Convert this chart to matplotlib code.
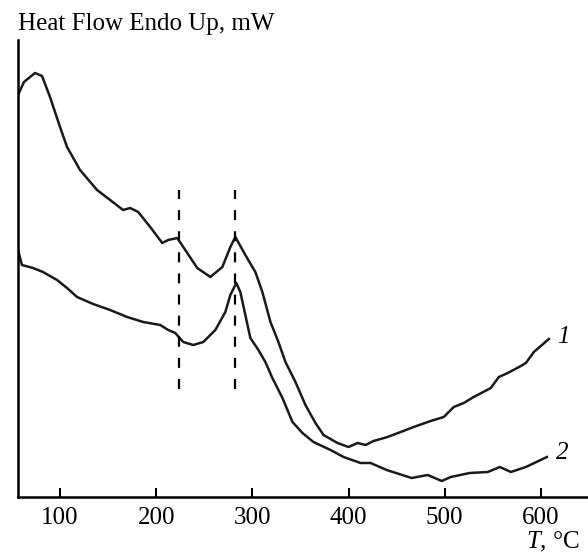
import matplotlib
matplotlib.use("Agg")
from matplotlib import pyplot as plt

plt.rcParams["font.family"] = "Liberation Serif"
plt.rcParams["mathtext.fontset"] = "custom"
plt.rcParams["mathtext.it"] = "Liberation Serif:italic"
plt.rcParams["mathtext.rm"] = "Liberation Serif"

# curve 1 (upper), T in deg C, heat flow in arbitrary mW
t1 = [56.3, 62.5, 74.0, 81.3, 89.6, 100.0, 107.3, 120.8, 138.5, 152.1, 165.6,
      172.9, 181.3, 193.8, 206.3, 212.5, 221.9, 232.3, 242.7, 256.3, 268.8,
      277.1, 282.3, 292.7, 303.1, 310.4, 318.8, 327.1, 334.4, 344.8, 355.2,
      365.6, 374.0, 388.5, 400.0, 409.4, 417.7, 426.0, 440.6, 454.2, 467.7,
      485.4, 499.0, 509.4, 519.8, 530.2, 547.9, 556.3, 565.6, 579.2, 584.4,
      592.7, 608.3]
hf1 = [40.2, 41.5, 42.4, 42.1, 40.0, 37.0, 35.0, 32.7, 30.7, 29.7, 28.7,
       28.9, 28.5, 27.0, 25.4, 25.7, 25.9, 24.4, 22.9, 22.0, 23.0,
       25.0, 26.0, 24.2, 22.5, 20.5, 17.5, 15.5, 13.5, 11.5, 9.2,
       7.4, 6.2, 5.4, 5.0, 5.4, 5.2, 5.6, 6.0, 6.5, 7.0,
       7.6, 8.0, 9.0, 9.4, 10.0, 10.9, 12.0, 12.4, 13.1, 13.4,
       14.5, 15.8]

# curve 2 (lower)
t2 = [56.3, 60.4, 71.9, 82.3, 96.9, 107.3, 117.7, 134.4, 152.1, 169.8, 186.5,
      204.2, 212.5, 219.8, 228.1, 238.5, 249.0, 261.5, 271.9, 277.1, 283.3,
      287.5, 292.7, 297.9, 306.3, 313.5, 320.8, 331.3, 341.7, 352.1, 363.5,
      381.3, 394.8, 412.5, 422.9, 439.6, 465.6, 482.3, 496.9, 506.3, 526.0,
      544.8, 557.3, 568.8, 584.4, 606.3]
hf2 = [24.7, 23.2, 22.9, 22.5, 21.7, 20.9, 20.0, 19.3, 18.7, 18.0, 17.5,
       17.2, 16.7, 16.4, 15.5, 15.2, 15.5, 16.7, 18.5, 20.2, 21.4,
       20.5, 18.2, 15.9, 14.7, 13.5, 11.9, 9.9, 7.5, 6.4, 5.5,
       4.7, 4.0, 3.4, 3.4, 2.7, 1.9, 2.2, 1.6, 2.0, 2.4,
       2.5, 3.0, 2.5, 3.0, 4.0]

peaks = [224, 282]
xticks = [100, 200, 300, 400, 500, 600]

fig = plt.figure(figsize=(5.88, 5.54), dpi=100)
ax = fig.add_axes([0.0306, 0.1029, 0.9694, 0.8249])

ax.plot(t1, hf1, color="#1a1a1a", lw=1.8, solid_joinstyle="round")
ax.plot(t2, hf2, color="#1a1a1a", lw=1.8, solid_joinstyle="round")
for p in peaks:
    ax.plot([p, p], [10.8, 30.7], color="black", lw=1.6, ls=(0, (4.5, 5)))

ax.text(617, 16.0, "1", fontsize=18, style="italic", va="center", ha="left")
ax.text(616, 4.4, "2", fontsize=18, style="italic", va="center", ha="left")

ax.set_xlim(56.3, 649)
ax.set_ylim(0, 45.7)
ax.set_xticks(xticks)
ax.set_yticks([])
ax.tick_params(axis="x", direction="in", length=6.5, width=1.5,
               labelsize=18, pad=7)
for s in ["top", "right"]:
    ax.spines[s].set_visible(False)
for s in ["left", "bottom"]:
    ax.spines[s].set_linewidth(1.8)

fig.text(18 / 588, 1 - 30 / 554, "Heat Flow Endo Up, mW", fontsize=18,
         ha="left", va="baseline")
fig.text(526 / 588, 1 - 548 / 554, r"$T$, °C", fontsize=18,
         ha="left", va="baseline")

fig.savefig("out.png", dpi=100)
